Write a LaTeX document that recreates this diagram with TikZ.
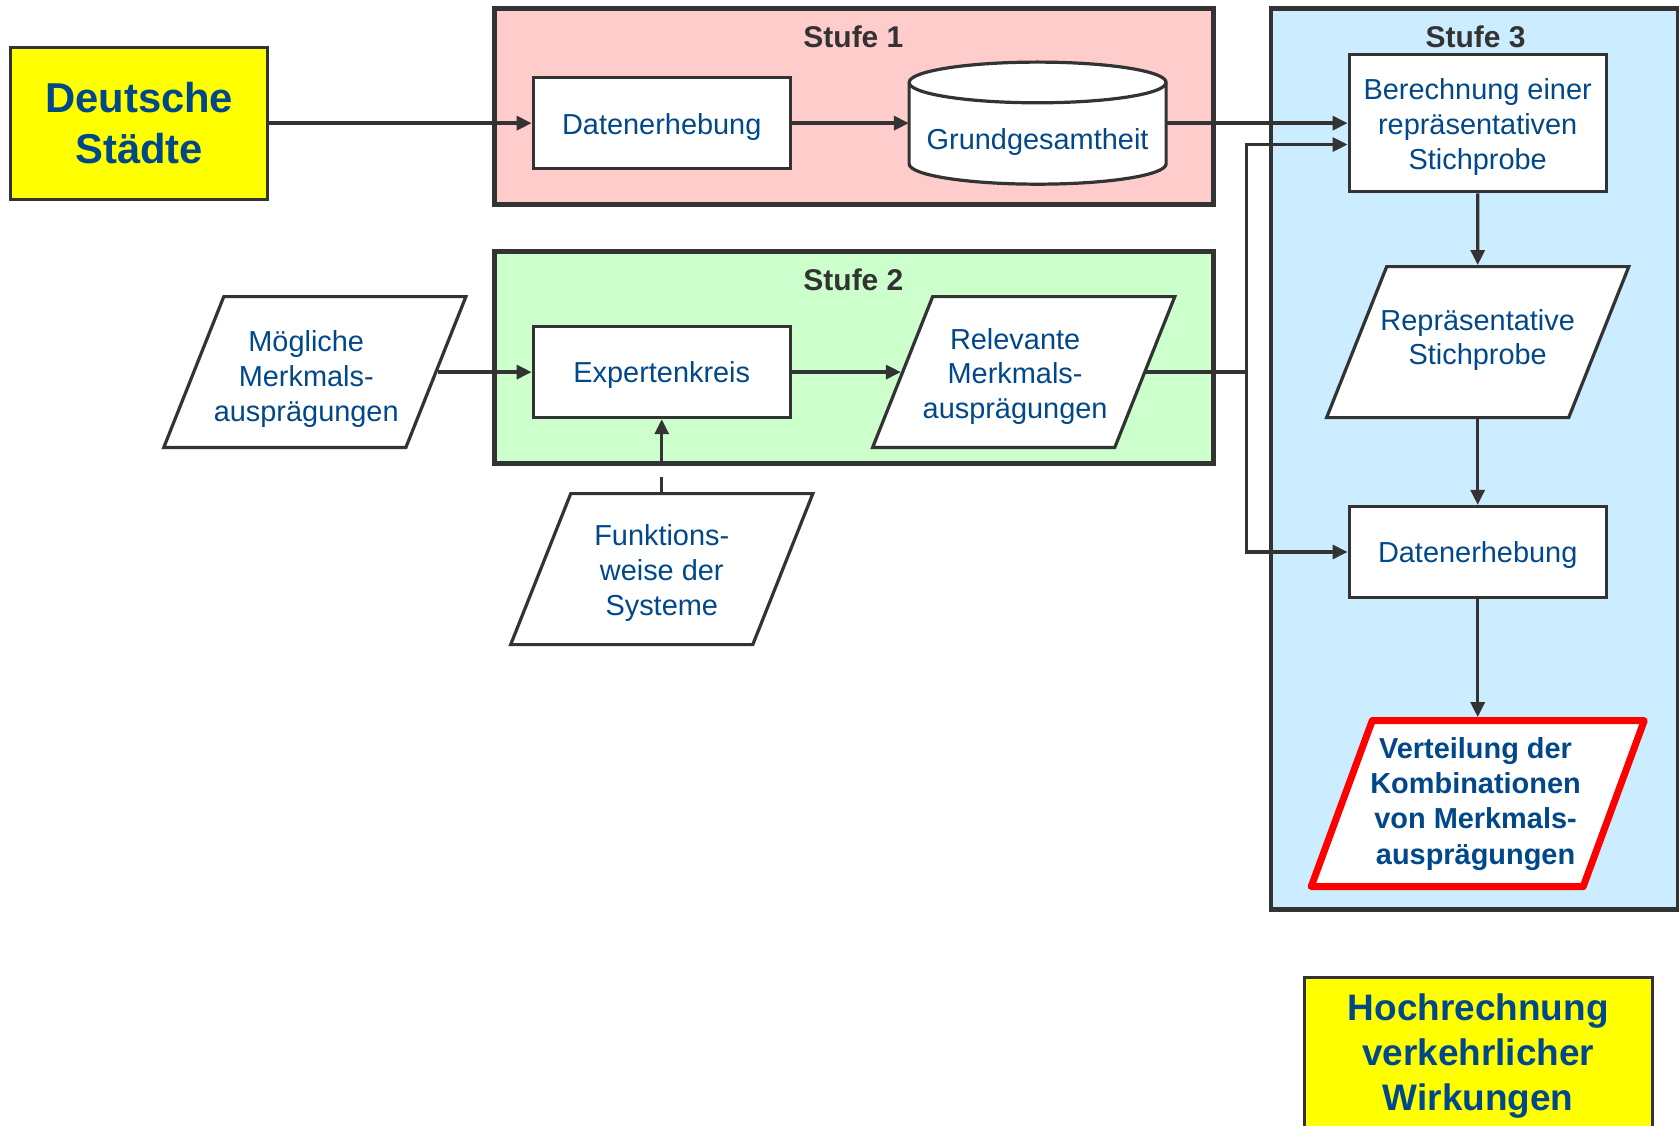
\documentclass[tikz,border=0pt]{standalone}
\usepackage{fontspec}
\setmainfont{Liberation Sans}
\usetikzlibrary{arrows.meta,shapes.geometric}

\definecolor{txtblue}{RGB}{0,72,138}
\definecolor{linegray}{RGB}{51,51,51}
\definecolor{stufeA}{RGB}{255,204,204}
\definecolor{stufeB}{RGB}{204,255,204}
\definecolor{stufeC}{RGB}{204,236,255}
\definecolor{goalyellow}{RGB}{255,255,0}
\definecolor{redline}{RGB}{255,0,0}

% centred stack of lines, moved right by #1 and down by #2
\newcommand{\lines}[3]{\makebox[150pt]{\kern#1\kern#1\raisebox{-#2}[\height][\depth]{%
  \begin{tabular}{@{}c@{}}#3\end{tabular}}}}
% stack of lines in a fixed box #1 wide and 2*#2 high (this box sets the
% size of a parallelogram), moved right by #3 and down by #4
\newcommand{\iolines}[5]{\makebox[#1]{\kern#3\kern#3%
  \raisebox{\dimexpr-#4-6.75pt\relax}[#2][#2]{%
  \begin{tabular}{@{}c@{}}#5\end{tabular}}}}

\begin{document}
\begin{tikzpicture}[x=1pt,y=-1pt,
  stagebox/.style={draw=linegray, line width=4.5pt},
  stagetitle/.style={text=linegray, font=\bfseries\fontsize{28}{33}\selectfont, inner sep=0pt},
  txt/.style={text=txtblue, font=\fontsize{27}{32.5}\selectfont, align=center},
  procbox/.style={txt, draw=linegray, fill=white, line width=3pt,
    minimum width=240pt, minimum height=85pt, inner sep=0pt},
  iobox/.style={txt, trapezium, trapezium left angle=68.3, trapezium right angle=111.7,
    draw=linegray, fill=white, line width=3pt, inner sep=0pt},
  goalbox/.style={draw=linegray, fill=goalyellow, line width=3pt, text=txtblue,
    align=center, inner sep=0pt},
  conn/.style={draw=linegray, line width=3.2pt},
  arr/.style={conn, -{Triangle[length=14pt,width=13pt]}}
]
\useasboundingbox (0,0) rectangle (1568,1051);

% stage frames
\draw[stagebox, fill=stufeA] (462,8) rectangle (1133,191);
\draw[stagebox, fill=stufeB] (462,235) rectangle (1133,433);
\draw[stagebox, fill=stufeC] (1187,8) rectangle (1567,849);
\node[stagetitle] (t1) at (797,34) {Stufe 1};
\node[stagetitle] (t2) at (797,261) {Stufe 2};
\node[stagetitle] (t3) at (1378,34) {Stufe 3};

% start and end
\node[goalbox, minimum width=240pt, minimum height=142pt,
  font=\bfseries\fontsize{39}{48}\selectfont] (ds) at (130,115) {Deutsche\\Städte};
\node[goalbox, minimum width=325pt, minimum height=144pt,
  font=\bfseries\fontsize{34.5}{42}\selectfont] (hr) at (1380.5,985)
  {\lines{0pt}{2pt}{Hochrechnung\\verkehrlicher\\Wirkungen}};

% stage 1
\node[procbox] (d1) at (618,115) {\lines{0pt}{4pt}{Datenerhebung}};
\node[minimum width=240pt, minimum height=114pt, inner sep=0pt] (grund) at (969,115) {};
\draw[draw=linegray, line width=3pt, fill=white, line join=round]
  (849,77) -- (849,153) arc[start angle=180, end angle=360, x radius=120pt, y radius=19pt]
  -- (1089,77) arc[start angle=0, end angle=180, x radius=120pt, y radius=19pt] -- cycle;
\draw[draw=linegray, line width=3pt]
  (849,77) arc[start angle=180, end angle=360, x radius=120pt, y radius=19pt];
\node[txt] (grundtxt) at (969,133) {Grundgesamtheit};

% stage 2
\node[iobox] (mog) at (294,347.5)
  {\iolines{170pt}{70.5pt}{-8pt}{6.5pt}{Mögliche\\Merkmals-\\ausprägungen}};
\node[procbox] (exp) at (618,347.5) {\lines{0pt}{3pt}{Expertenkreis}};
\node[iobox] (rel) at (956,347.5)
  {\iolines{170pt}{70.5pt}{-8pt}{4pt}{Relevante\\Merkmals-\\ausprägungen}};
\node[iobox] (funk) at (618,531.5)
  {\iolines{170pt}{70.5pt}{0pt}{3.5pt}{Funktions-\\weise der\\Systeme}};

% stage 3
\node[procbox, minimum height=128pt] (ber) at (1380,115)
  {\lines{0pt}{4pt}{Berechnung einer\\repräsentativen\\Stichprobe}};
\node[iobox] (rep) at (1380,319.5)
  {\iolines{170pt}{70.5pt}{0pt}{-2pt}{Repräsentative\\Stichprobe}};
\node[procbox] (d2) at (1380,515.5) {\lines{0pt}{3pt}{Datenerhebung}};
\node[iobox, draw=redline, line width=6.5pt, line join=round,
  trapezium left angle=69.8, trapezium right angle=110.2,
  font=\bfseries\fontsize{27}{33}\selectfont] (vert) at (1380,750.5)
  {\iolines{197pt}{77.5pt}{-2pt}{0pt}{Verteilung der\\Kombinationen\\von Merkmals-\\ausprägungen}};

% connectors
\coordinate (split) at (1164,135);
\draw[arr] (ds.east) -- (ds.east -| d1.west);
\draw[arr] (d1) -- (grund);
\draw[arr] (grund) -- (ber);
\draw[arr] (mog) -- (exp);
\draw[arr] (exp) -- (rel);
\draw[arr, dash pattern=on 14pt off 12pt on 200pt] (funk) -- (exp);
\draw[arr] (rel.east) -| (split) -- (split -| ber.west);
\draw[arr] (rel.east -| split) |- (d2.west);
\draw[arr] (ber) -- (rep);
\draw[arr] (rep) -- (d2);
\draw[arr] (d2) -- (vert);
\end{tikzpicture}
\end{document}
